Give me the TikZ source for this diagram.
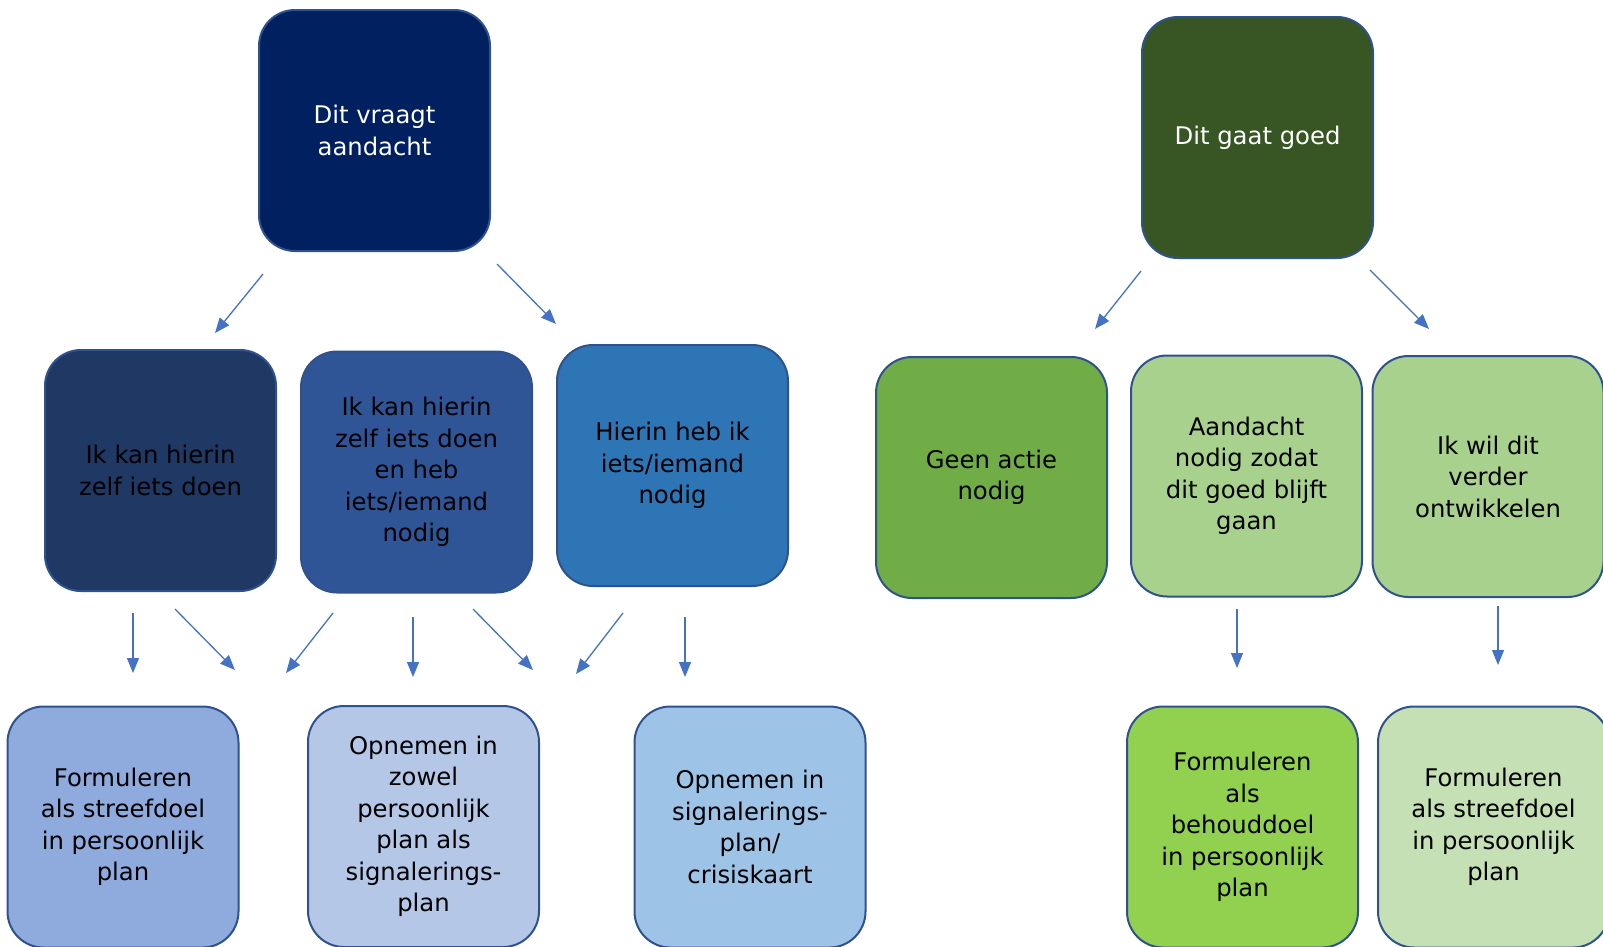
\documentclass[tikz,border=0pt]{standalone}
\usepackage{fontspec}
\setmainfont{DejaVu Sans}
\usetikzlibrary{arrows.meta}
\definecolor{cNavy}{HTML}{002060}
\definecolor{cDkGreen}{HTML}{375623}
\definecolor{cC1}{HTML}{203864}
\definecolor{cC2}{HTML}{2F5597}
\definecolor{cC3}{HTML}{2E75B6}
\definecolor{cG1}{HTML}{70AD47}
\definecolor{cG2}{HTML}{A9D18E}
\definecolor{cD1}{HTML}{8FAADC}
\definecolor{cD2}{HTML}{B4C7E7}
\definecolor{cD3}{HTML}{9DC3E6}
\definecolor{cH1}{HTML}{92D050}
\definecolor{cH2}{HTML}{C5E0B4}
\definecolor{cBorder}{HTML}{2F528F}
\definecolor{cArrow}{HTML}{4472C4}
\tikzset{
  box/.style={draw=cBorder, line width=2pt, rounded corners=36pt,
    minimum width=231pt, minimum height=241pt, inner sep=0pt,
    align=center, text=black,
    font=\fontsize{24.3pt}{31.5pt}\selectfont},
  arr/.style={draw=cArrow, line width=1.3pt, -{Triangle[length=15pt,width=12pt]}}
}
\begin{document}
\begin{tikzpicture}[x=1pt,y=-1pt]
\useasboundingbox (0,0) rectangle (1603,946);
% top
\node[box, fill=cNavy, text=white] (A) at (374.5,130.5) {Dit vraagt\\aandacht};
\node[box, fill=cDkGreen, text=white] (B) at (1257.5,137.5) {Dit gaat goed};
% middle
\node[box, fill=cC1] (C1) at (160.5,470.5) {Ik kan hierin\\zelf iets doen};
\node[box, fill=cC2] (C2) at (416.5,472) {Ik kan hierin\\zelf iets doen\\en heb\\iets/iemand\\nodig};
\node[box, fill=cC3] (C3) at (672.5,465.5) {Hierin heb ik\\iets/iemand\\nodig};
\node[box, fill=cG1] (G1) at (991.5,477.5) {Geen actie\\nodig};
\node[box, fill=cG2] (G2) at (1246.5,476) {Aandacht\\nodig zodat\\dit goed blijft\\gaan};
\node[box, fill=cG2] (G3) at (1488,476.5) {Ik wil dit\\verder\\ontwikkelen};
% bottom
\node[box, fill=cD1] (D1) at (123,827) {Formuleren\\als streefdoel\\in persoonlijk\\plan};
\node[box, fill=cD2] (D2) at (423.5,826.5) {Opnemen in\\zowel\\persoonlijk\\plan als\\signalerings-\\plan};
\node[box, fill=cD3] (D3) at (750,827) {Opnemen in\\signalerings-\\plan/\\crisiskaart};
\node[box, fill=cH1] (H1) at (1242.5,827) {Formuleren\\als\\behouddoel\\in persoonlijk\\plan};
\node[box, fill=cH2] (H2) at (1493.5,827) {Formuleren\\als streefdoel\\in persoonlijk\\plan};
% arrow coordinates
\coordinate (a1s) at (263,274); \coordinate (a1e) at (215,333);
\coordinate (a2s) at (497,264); \coordinate (a2e) at (556,324);
\coordinate (b1s) at (1141,271); \coordinate (b1e) at (1095,329);
\coordinate (b2s) at (1370,270); \coordinate (b2e) at (1429,329);
\coordinate (l1s) at (133,613); \coordinate (l1e) at (133,673);
\coordinate (l2s) at (175,609); \coordinate (l2e) at (235,670);
\coordinate (l3s) at (333,613); \coordinate (l3e) at (286,673);
\coordinate (l4s) at (413,617); \coordinate (l4e) at (413,677);
\coordinate (l5s) at (473,609); \coordinate (l5e) at (533,670);
\coordinate (l6s) at (623,613); \coordinate (l6e) at (576,674);
\coordinate (l7s) at (685,617); \coordinate (l7e) at (685,677);
\coordinate (r1s) at (1237,609); \coordinate (r1e) at (1237,668);
\coordinate (r2s) at (1498,606); \coordinate (r2e) at (1498,665);
\foreach \p in {a1,a2,b1,b2,l1,l2,l3,l4,l5,l6,l7,r1,r2}
  \draw[arr] (\p s) -- (\p e);
\end{tikzpicture}
\end{document}
